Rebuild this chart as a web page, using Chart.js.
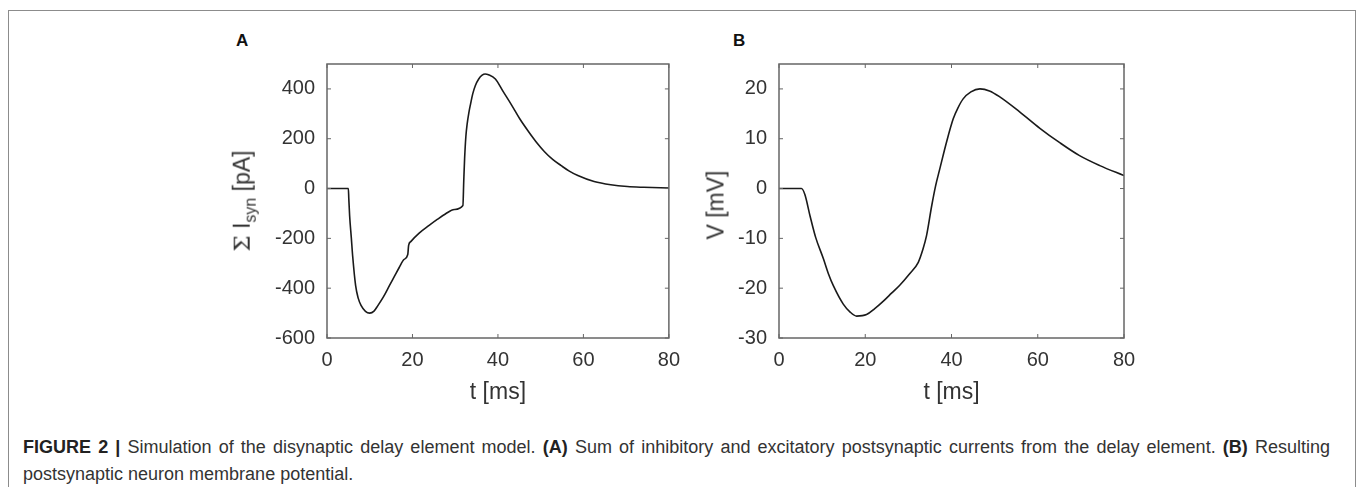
<!DOCTYPE html>
<html>
<head>
<meta charset="utf-8">
<script src="https://cdn.jsdelivr.net/npm/chart.js@4.4.1/dist/chart.umd.min.js"></script>
<style>
  body { margin: 0; background: #fff; width: 1358px; height: 487px; overflow: hidden; position: relative; font-family: 'Liberation Sans', Arial, sans-serif; }
  .frame { position: absolute; left: 8px; top: 10px; width: 1346px; height: 500px; border: 1px solid #8c8c8c; }
  canvas { position: absolute; }
  .panel { position: absolute; font-weight: bold; font-size: 17px; color: #111; }
  .ytitle { position: absolute; width: 0; height: 0; }
  .ytitle span { position: absolute; left: 0; top: 0; transform: translate(-50%, -50%) rotate(-90deg); white-space: nowrap; font-size: 23px; color: #333; }
  .ytitle .sig { font-family: 'DejaVu Serif', serif; font-size: 23px; }
  .ytitle sub { font-size: 16px; }
  .caption { position: absolute; left: 23px; top: 434px; font-size: 18px; line-height: 27px; color: #333; white-space: nowrap; }
  .caption .l1 { width: 1307px; text-align: justify; text-align-last: justify; }
  .caption b { color: #222; }
</style>
</head>
<body>
<div class="frame"></div>
<div class="panel" style="left:236px;top:31px">A</div>
<div class="panel" style="left:733px;top:31px">B</div>
<canvas id="chartA" width="460" height="372" style="left:230px;top:40px"></canvas>
<canvas id="chartB" width="460" height="372" style="left:700px;top:40px"></canvas>
<div class="ytitle" style="left:244px;top:201px"><span><span class="sig" style="position:static;transform:none">&Sigma;</span> I<sub>syn</sub> [pA]</span></div>
<div class="ytitle" style="left:716px;top:205px"><span>V [mV]</span></div>
<div class="caption">
  <div class="l1"><b>FIGURE 2 |</b> Simulation of the disynaptic delay element model. <b>(A)</b> Sum of inhibitory and excitatory postsynaptic currents from the delay element. <b>(B)</b> Resulting</div>
  <div>postsynaptic neuron membrane potential.</div>
</div>
<script>
// panel A: summed synaptic current
var tA = [0, 5, 5.1, 5.3, 5.7, 6.0, 6.7, 7.3, 8.0, 9.0,
  10.0, 11.0, 11.9, 13.2, 14.6, 15.8, 16.9, 18.0, 18.9, 19.1,
  19.6, 21.5, 23.9, 25.8, 27.7, 29.8, 31.8, 32.0, 32.2, 32.5,
  32.8, 33.2, 33.6, 34.1, 34.7, 35.5, 36.3, 37.0, 37.8, 39.4,
  41.2, 43.2, 45.1, 47.1, 49.0, 50.9, 52.8, 54.8, 56.7, 58.7,
  62.5, 66.4, 70.3, 74.1, 80];
var iSyn = [0, 0, -40, -110, -200, -270, -390, -440, -470, -493,
  -500, -492, -470, -435, -390, -352, -317, -285, -265, -228,
  -213, -180, -148, -124, -102, -84, -68, 30, 120, 210,
  260, 305, 340, 380, 413, 440, 455, 460, 457, 440,
  390, 335, 280, 230, 186, 148, 117, 92, 70, 52,
  28, 15, 8, 5, 2];

// panel B: membrane potential
var tB = [0, 5.2, 6.0, 7.2, 8.5, 10.3, 11.5, 12.6, 14.9, 16.5,
  18.0, 20.3, 22.2, 24.2, 26.1, 28.0, 30.2, 32.3, 33.3, 34.2,
  35.4, 36.3, 37.3, 38.9, 40.4, 41.5, 42.7, 44.5, 46.6, 48.8,
  51.2, 55.8, 60.5, 65.1, 69.7, 74.4, 80];
var vMem = [0, 0, -1.2, -5.5, -9.8, -14.1, -17.2, -19.5, -23.2, -24.8,
  -25.6, -25.3, -24.1, -22.6, -21.0, -19.4, -17.2, -14.8, -12.4, -9.5,
  -3.5, 0.5, 4.0, 9.5, 14.0, 16.2, 18.0, 19.4, 20.0, 19.6,
  18.4, 15.4, 12.1, 9.2, 6.6, 4.6, 2.6];

var xTicks = [0, 20, 40, 60, 80];
var yTicksA = [-600, -400, -200, 0, 200, 400];
var yTicksB = [-30, -20, -10, 0, 10, 20];

var FONT = "'Liberation Sans', Arial, sans-serif";
var BOX = '#666';

// matlab-like box with inward ticks on all four sides
var boxPlugin = {
  id: 'box',
  afterDatasetsDraw: function (chart) {
    var a = chart.chartArea, ctx = chart.ctx;
    var xs = chart.scales.x, ys = chart.scales.y;
    var len = 4;
    ctx.save();
    ctx.strokeStyle = BOX;
    ctx.lineWidth = 1.5;
    ctx.strokeRect(a.left, a.top, a.right - a.left, a.bottom - a.top);
    ctx.lineWidth = 1;
    ctx.beginPath();
    xs.ticks.forEach(function (t) {
      var px = xs.getPixelForValue(t.value);
      ctx.moveTo(px, a.bottom); ctx.lineTo(px, a.bottom - len);
      ctx.moveTo(px, a.top); ctx.lineTo(px, a.top + len);
    });
    ys.ticks.forEach(function (t) {
      var py = ys.getPixelForValue(t.value);
      ctx.moveTo(a.left, py); ctx.lineTo(a.left + len, py);
      ctx.moveTo(a.right, py); ctx.lineTo(a.right - len, py);
    });
    ctx.stroke();
    ctx.restore();
  }
};

function makeChart(id, xs, ys, yMin, yMax, yTicks, yWidth, padRight) {
  var pts = xs.map(function (x, i) { return {x: x, y: ys[i]}; });
  return new Chart(document.getElementById(id), {
    type: 'line',
    data: {
      datasets: [{
        data: pts,
        borderColor: '#1a1a1a',
        borderWidth: 1.6,
        pointRadius: 0,
        cubicInterpolationMode: 'monotone',
        fill: false
      }]
    },
    options: {
      responsive: false,
      animation: false,
      devicePixelRatio: 1,
      layout: { padding: { top: 18, right: padRight, bottom: 6, left: 0 } },
      plugins: { legend: { display: false }, tooltip: { enabled: false } },
      scales: {
        x: {
          type: 'linear', min: 0, max: 80,
          grid: { display: false, drawTicks: false },
          border: { display: false },
          afterBuildTicks: function (s) { s.ticks = xTicks.map(function (v) { return {value: v}; }); },
          afterFit: function (s) { s.height = 68; },
          ticks: { padding: 10, color: '#333', font: { family: FONT, size: 20 } },
          title: { display: true, text: 't [ms]', color: '#333', padding: 0, font: { family: FONT, size: 23 } }
        },
        y: {
          type: 'linear', min: yMin, max: yMax,
          grid: { display: false, drawTicks: false },
          border: { display: false },
          afterBuildTicks: function (s) { s.ticks = yTicks.map(function (v) { return {value: v}; }); },
          afterFit: function (s) { s.width = yWidth; },
          ticks: { padding: 12, color: '#333', font: { family: FONT, size: 20 } }
        }
      }
    },
    plugins: [boxPlugin]
  });
}

makeChart('chartA', tA, iSyn, -600, 500, yTicksA, 97, 18);
makeChart('chartB', tB, vMem, -30, 25, yTicksB, 79, 36);
</script>
</body>
</html>
